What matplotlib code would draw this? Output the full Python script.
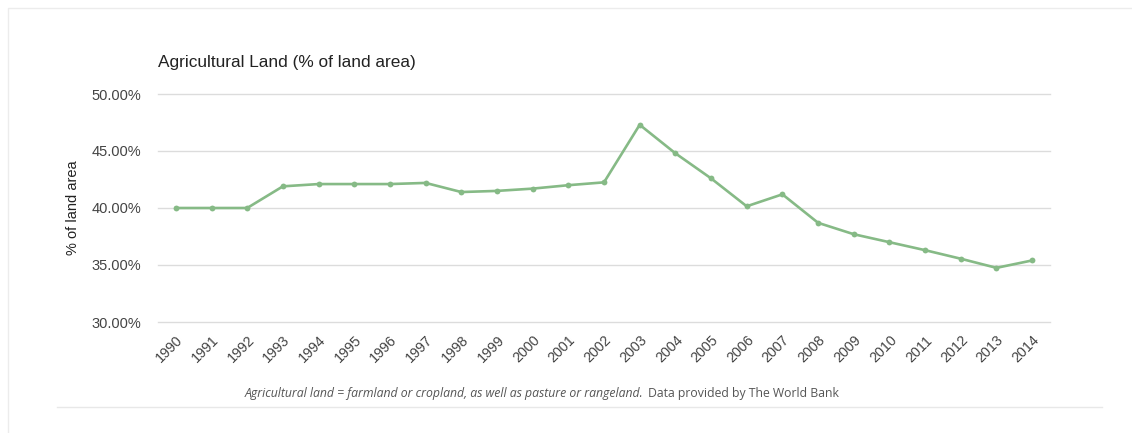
import matplotlib
matplotlib.use("Agg")
import matplotlib.pyplot as plt
from matplotlib.lines import Line2D
from matplotlib.patches import Rectangle

years = [str(y) for y in range(1990, 2015)]
agri_pct = [40.0, 40.0, 40.0, 41.9, 42.1, 42.1, 42.1, 42.2, 41.4, 41.5,
            41.7, 42.0, 42.25, 47.3, 44.8, 42.6, 40.15, 41.2, 38.7, 37.7,
            37.0, 36.3, 35.55, 34.75, 35.4]
y_ticks = [30, 35, 40, 45, 50]

W, H = 1132, 433
fig = plt.figure(figsize=(W / 100, H / 100), dpi=100)
fig.patch.set_facecolor("white")

# card frame
fig.patches.append(Rectangle((8 / W, -0.01), 1.2, 1 - 8 / H + 0.01,
                             transform=fig.transFigure, fill=False,
                             edgecolor="#ececec", linewidth=1.0))
fig.lines.append(Line2D([57 / W, 1102 / W], [1 - 407 / H] * 2,
                        transform=fig.transFigure, color="#e8e8e8", linewidth=1.0))

ax = fig.add_axes([158 / W, 1 - 322 / H, (1050 - 158) / W, (322 - 94) / H])
x = list(range(len(years)))
ax.plot(x, agri_pct, color="#86ba86", linewidth=1.9, marker="o",
        markersize=4.2, markeredgewidth=0, zorder=3)

ax.set_xlim(-0.5, len(years) - 0.5)
ax.set_ylim(30, 50)
ax.set_yticks(y_ticks)
ax.set_yticklabels([f"{v:.2f}%" for v in y_ticks], fontsize=10.5,
                   color="#444444", family="Liberation Sans")
ax.set_xticks(x)
ax.set_xticklabels(years, rotation=45, ha="right", rotation_mode="anchor",
                   fontsize=10.3, color="#444444", family="Liberation Sans")
ax.tick_params(axis="both", length=0)
ax.tick_params(axis="y", pad=12)
ax.tick_params(axis="x", pad=8)
ax.grid(axis="y", color="#dcdcdc", linewidth=1.0)
for gl in ax.get_ygridlines():
    gl.set_clip_on(False)
ax.set_axisbelow(True)
for s in ax.spines.values():
    s.set_visible(False)

fig.text(73 / W, 1 - 208 / H, "% of land area", rotation=90, ha="center",
         va="center", fontsize=10.5, color="#222222", family="Liberation Sans")
fig.text(158 / W, 1 - 62 / H, "Agricultural Land (% of land area)",
         ha="left", va="center", fontsize=12.4, color="#222222",
         family="Liberation Sans")

# footnote: italic part followed by regular part
note_y = 1 - 393 / H
t1 = fig.text(245 / W, note_y,
              "Agricultural land = farmland or cropland, as well as pasture or rangeland.",
              ha="left", va="center", fontsize=8.85, style="italic",
              color="#555555", family="Open Sans")
fig.canvas.draw()
bb = t1.get_window_extent()
fig.text(bb.x1 / W + 4 / W, note_y, "Data provided by The World Bank",
         ha="left", va="center", fontsize=8.85, color="#555555",
         family="Open Sans")

fig.savefig("out.png", dpi=100)
